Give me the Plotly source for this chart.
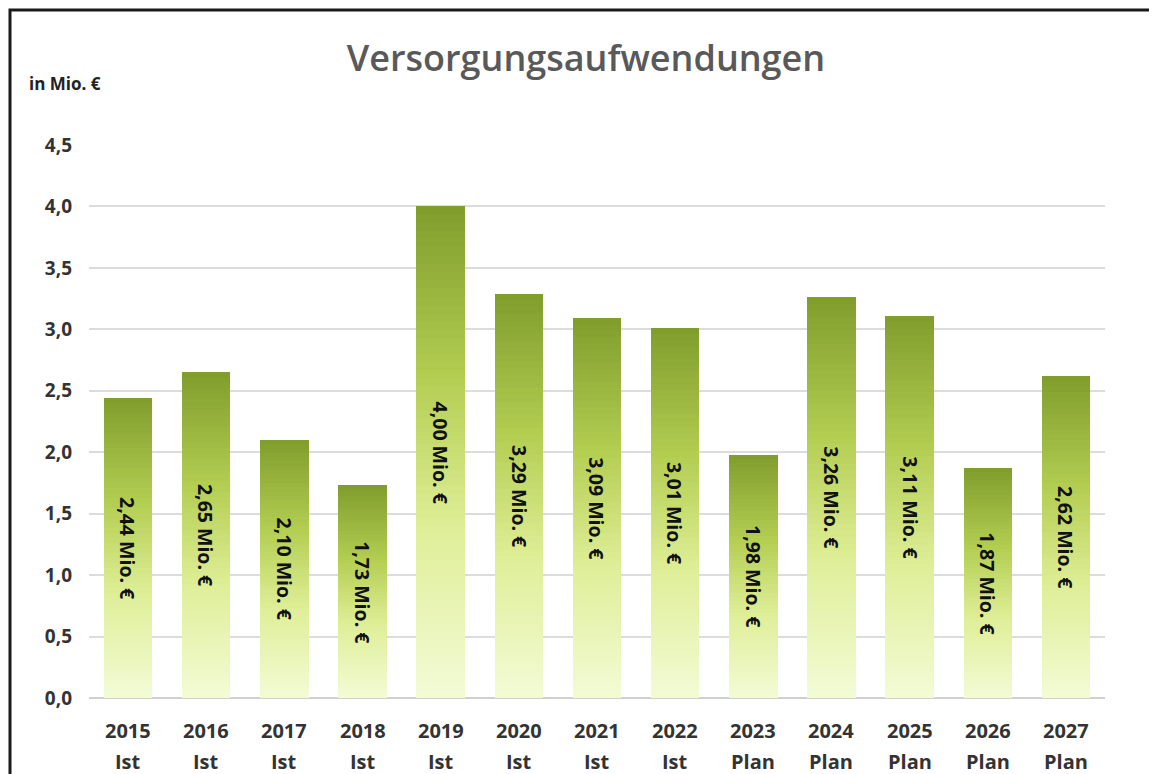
import plotly.graph_objects as go

years = ["2015", "2016", "2017", "2018", "2019", "2020", "2021", "2022",
         "2023", "2024", "2025", "2026", "2027"]
status = ["Ist", "Ist", "Ist", "Ist", "Ist", "Ist", "Ist", "Ist",
          "Plan", "Plan", "Plan", "Plan", "Plan"]
values = [2.44, 2.65, 2.10, 1.73, 4.00, 3.29, 3.09, 3.01, 1.98, 3.26, 3.11, 1.87, 2.62]
tick_vals = [0, 0.5, 1.0, 1.5, 2.0, 2.5, 3.0, 3.5, 4.0, 4.5]
tick_text = ["0,0", "0,5", "1,0", "1,5", "2,0", "2,5", "3,0", "3,5", "4,0", "4,5"]

categories = [f"{y} {s}" for y, s in zip(years, status)]

FONT = "Open Sans"
OFF = 8  # page body margin offset

# gradient colour stops: bottom (0) -> top (1)
stops = [(0.0, (244, 251, 214)), (0.35, (222, 238, 150)), (0.65, (180, 206, 82)), (1.0, (128, 157, 44))]


def grad(t):
    for (t0, c0), (t1, c1) in zip(stops[:-1], stops[1:]):
        if t0 <= t <= t1:
            f = (t - t0) / (t1 - t0)
            return "rgb(%d,%d,%d)" % tuple(round(a + (b - a) * f) for a, b in zip(c0, c1))
    return "rgb(%d,%d,%d)" % stops[-1][1]


N = 60
fig = go.Figure()
for k in range(N):
    fig.add_trace(go.Bar(
        x=categories,
        y=[v / N for v in values],
        marker=dict(color=grad((k + 0.5) / N), line=dict(width=0)),
        showlegend=False,
        hoverinfo="skip",
    ))

for c, v in zip(categories, values):
    fig.add_annotation(
        x=c, y=v / 2, xref="x", yref="y",
        text=f"{v:.2f}".replace(".", ",") + " Mio. €",
        textangle=90, showarrow=False,
        font=dict(family=FONT, size=19.5, color="#111111", weight="bold"),
    )

W, H = 1157, 774
L = 89 - OFF
T = 145 - OFF
R = W - (1105 - OFF)
B = H - (698 - OFF)
pw = W - L - R
ph = H - T - B


def px(x):
    return (x - OFF - L) / pw


def py(y):
    return (H - B - (y - OFF)) / ph


# two-line category labels
xfont = dict(family=FONT, size=20, color="#333333", weight="bold")
for c, yr, st in zip(categories, years, status):
    fig.add_annotation(x=c, y=py(730), xref="x", yref="paper", text=yr,
                       showarrow=False, yanchor="middle", font=xfont)
    fig.add_annotation(x=c, y=py(761), xref="x", yref="paper", text=st,
                       showarrow=False, yanchor="middle", font=xfont)

fig.add_annotation(
    x=px(27), y=py(83), xref="paper", yref="paper", text="in Mio. €",
    xanchor="left", yanchor="middle",
    showarrow=False, font=dict(family=FONT, size=17, color="#222222", weight="bold"),
)

fig.update_layout(
    width=W, height=H,
    barmode="stack", bargap=0.38,
    paper_bgcolor="white", plot_bgcolor="white",
    margin=dict(l=L, r=R, t=T, b=B),
    title=dict(text="Versorgungsaufwendungen", x=(586 - OFF) / W, xanchor="center",
               y=1 - (58 - OFF) / H, yanchor="middle",
               font=dict(family=FONT, size=36, color="#595959", weight=600)),
    xaxis=dict(showgrid=False, showline=False, ticks="", showticklabels=False),
    yaxis=dict(range=[0, 4.5], tickvals=tick_vals, ticktext=tick_text,
               showgrid=True, gridcolor="#dcdcdc", gridwidth=2,
               zeroline=True, zerolinecolor="#d0d0d0", zerolinewidth=2,
               ticks="", ticklabelstandoff=16,
               tickfont=dict(family=FONT, size=19, color="#333333", weight="bold")),
)

fig.add_shape(type="rect", xref="paper", yref="paper",
              x0=px(10), x1=px(1155),
              y0=py(800), y1=py(10),
              line=dict(color="#1a1a1a", width=3), fillcolor="rgba(0,0,0,0)", layer="above")

fig.write_html("out.html")
